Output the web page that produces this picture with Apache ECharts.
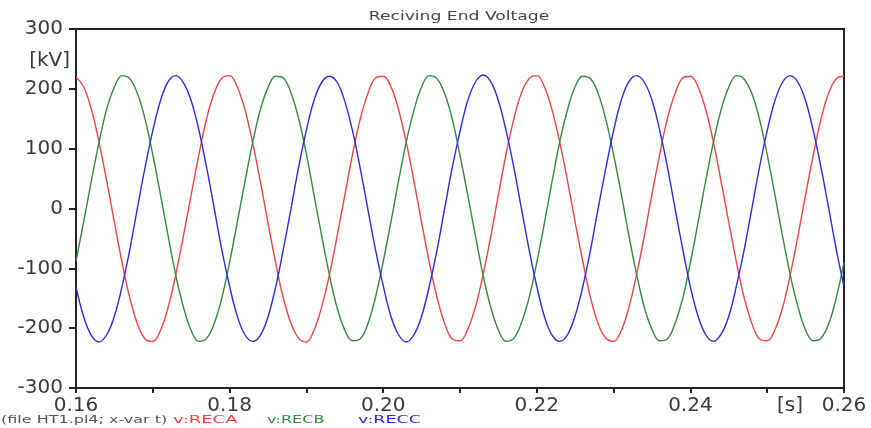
<!DOCTYPE html>
<html lang="en">
<head>
    <meta charset="UTF-8">
    <title>Reciving End Voltage</title>
    <style>
        html, body { margin: 0; padding: 0; background: #fff; }
    </style>
</head>
<body>
    <div id="main" style="width:871px;height:428px;"></div>

    <script src="https://cdn.jsdelivr.net/npm/echarts@6/dist/echarts.min.js"></script>
    <script>
// sampled every 1 ms from 0.160 s to 0.260 s, kV
var tStart = 0.16, tStep = 0.001;

var vRECA = [
    220, 203, 166, 111, 46, -23, -90, -149, -193, -218, -222, -204, -165, -110, -45, 23, 90, 150, 193, 218,
    222, 203, 165, 110, 45, -24, -91, -150, -192, -217, -223, -203, -164, -111, -46, 22, 90, 149, 192, 218,
    221, 204, 165, 111, 46, -23, -90, -148, -192, -218, -221, -202, -165, -111, -47, 23, 91, 149, 193, 217,
    222, 203, 164, 110, 46, -23, -89, -149, -193, -217, -222, -204, -165, -110, -46, 24, 90, 150, 192, 218,
    221, 203, 165, 111, 45, -23, -90, -149, -192, -218, -221, -203, -166, -111, -46, 23, 89, 149, 193, 217,
    221
];
var vRECB = [
    -88, -22, 46, 111, 166, 203, 222, 217, 192, 149, 90, 23, -46, -112, -165, -204, -222, -217, -192, -149,
    -90, -23, 45, 110, 165, 202, 221, 218, 193, 150, 91, 22, -46, -111, -166, -203, -221, -218, -193, -148,
    -89, -23, 46, 111, 164, 203, 222, 217, 192, 149, 89, 23, -45, -111, -165, -203, -222, -217, -191, -149,
    -90, -24, 46, 112, 165, 204, 221, 217, 192, 148, 90, 24, -46, -110, -165, -202, -221, -218, -192, -150,
    -90, -23, 47, 111, 165, 203, 222, 216, 192, 149, 90, 23, -46, -111, -164, -203, -221, -217, -193, -149,
    -90
];
var vRECC = [
    -131, -181, -212, -223, -211, -180, -130, -69, 1, 69, 130, 180, 212, 222, 210, 180, 131, 69, 0, -70,
    -130, -180, -211, -222, -212, -181, -131, -68, 0, 70, 131, 181, 211, 221, 211, 179, 130, 68, -1, -69,
    -129, -180, -211, -223, -211, -180, -130, -70, 0, 69, 129, 180, 211, 223, 212, 180, 130, 69, 0, -69,
    -130, -181, -212, -222, -211, -179, -130, -69, 1, 68, 130, 181, 212, 222, 211, 181, 131, 70, 0, -68,
    -131, -180, -211, -222, -210, -180, -129, -69, 0, 69, 130, 180, 211, 222, 211, 180, 130, 69, 1, -69,
    -130
];

var xLabels = ['0.16', '0.18', '0.20', '0.22', '0.24', '0.26'];
var seriesNames = ['v:RECA', 'v:RECB', 'v:RECC'];
var colors = ['#f04444', '#33893f', '#2a2ae4'];

function pairs(vals) {
    return vals.map(function (v, i) {
        return [+(tStart + i * tStep).toFixed(3), v];
    });
}

var font = '"DejaVu Sans", sans-serif';

// small texts of the plot file are drawn wider than the font is, so stretch them
function label(text, x, y, size, color, stretch, align) {
    return {
        type: 'text', x: x, y: y, scaleX: stretch || 1,
        style: {
            text: text, font: size + 'px ' + font, fill: color,
            textAlign: align || 'left', textVerticalAlign: 'middle'
        }
    };
}

var chart = echarts.init(document.getElementById('main'));
chart.setOption({
    animation: false,
    backgroundColor: '#fff',
    grid: {
        left: 76, right: 27, top: 29, bottom: 40,
        show: true,
        borderColor: '#222',
        borderWidth: 2,
        outerBoundsMode: 'none'
    },
    xAxis: {
        type: 'value',
        min: 0.16,
        max: 0.26,
        interval: 0.01,
        axisLine: { onZero: false, lineStyle: { color: '#222', width: 2 } },
        axisTick: { show: true, inside: false, length: 5, lineStyle: { color: '#222', width: 2 } },
        splitLine: { show: false },
        axisLabel: {
            margin: 8,
            fontFamily: font,
            fontSize: 20,
            color: '#3a3a3a',
            showMinLabel: true,
            showMaxLabel: true,
            formatter: function (v) {
                var s = v.toFixed(2);
                return xLabels.indexOf(s) >= 0 ? s : '';
            }
        }
    },
    yAxis: {
        type: 'value',
        min: -300,
        max: 300,
        interval: 100,
        axisLine: { show: true, lineStyle: { color: '#222', width: 2 } },
        axisTick: { show: true, inside: false, length: 7, lineStyle: { color: '#222', width: 2 } },
        splitLine: { show: false },
        axisLabel: {
            margin: 13,
            fontFamily: font,
            fontSize: 20,
            color: '#3a3a3a'
        }
    },
    graphic: [
        label('Reciving End Voltage', 459, 17, 13, '#444', 1.32, 'center'),
        label('[kV]', 70, 61, 20, '#3a3a3a', 1, 'right'),
        label('[s]', 790, 406, 20, '#3a3a3a', 1, 'center'),
        label('(file HT1.pl4; x-var t)', 1, 420, 10, '#555', 1.6),
        label(seriesNames[0], 173, 420, 10, colors[0], 1.8),
        label(seriesNames[1], 267, 420, 10, colors[1], 1.6),
        label(seriesNames[2], 358, 420, 10, colors[2], 1.75)
    ],
    series: [vRECA, vRECB, vRECC].map(function (vals, i) {
        return {
            name: seriesNames[i],
            type: 'line',
            data: pairs(vals),
            showSymbol: false,
            smooth: 0.4,
            clip: true,
            lineStyle: { color: colors[i], width: 1.4 }
        };
    })
});
    </script>
</body>
</html>
